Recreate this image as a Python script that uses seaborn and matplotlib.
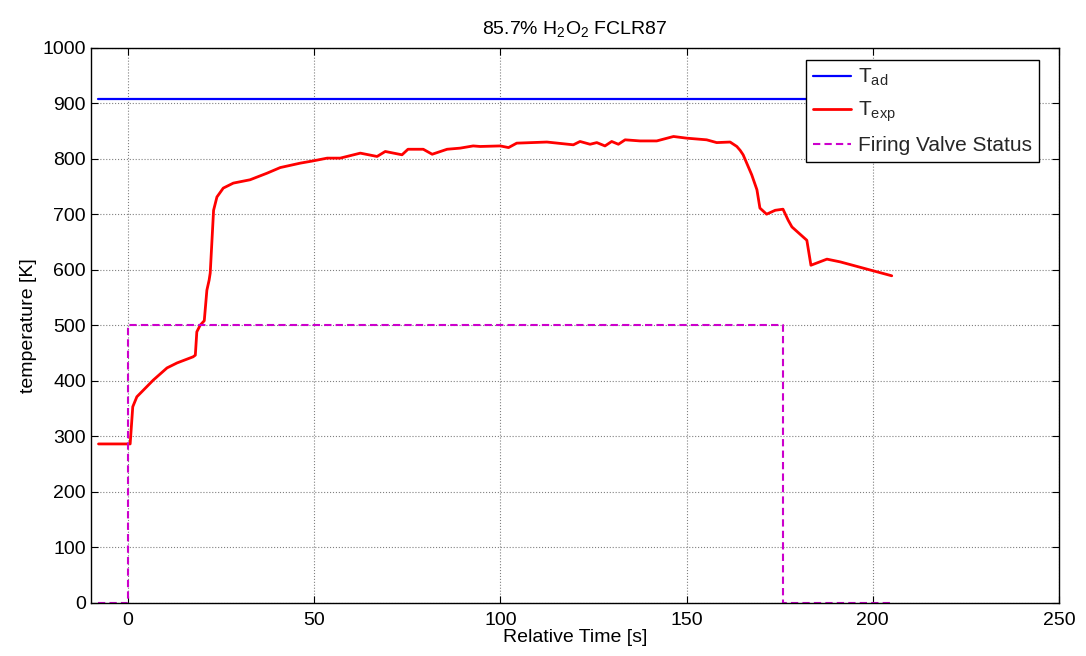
import matplotlib
matplotlib.use("Agg")
import matplotlib.pyplot as plt
import seaborn as sns
import pandas as pd

# ---- data ----
t_ad_time = [-8, 205]
t_ad_vals = [907, 907]

t_exp_time = [-7.9, 0.6, 1.3, 2.4, 6.8, 10.5, 13.2, 17.5, 18.1, 18.5, 19.4, 20.5, 21.2, 21.8,
              22.1, 23.0, 23.9, 25.6, 28.3, 32.8, 37.4, 40.9, 46.3, 49.7, 53.5, 57.0, 62.4,
              66.9, 69.1, 73.6, 75.2, 79.3, 81.7, 85.7, 89.2, 92.7, 94.6, 100.0, 102.2, 104.4,
              112.5, 119.6, 121.4, 124.1, 125.9, 128.1, 129.9, 131.7, 133.5, 137.5, 142.0,
              146.5, 150.0, 155.4, 158.1, 161.7, 163.5, 164.4, 165.2, 167.5, 168.9, 169.7,
              171.5, 173.8, 175.9, 177.3, 178.3, 182.3, 183.4, 187.7, 191.3, 200.1, 205.1]
t_exp_vals = [286, 286, 353, 371, 401, 423, 432, 443, 446, 488, 500, 508, 563, 581,
              594, 707, 731, 747, 756, 762, 774, 784, 792, 796, 801, 801, 810,
              804, 813, 807, 817, 817, 808, 817, 819, 823, 822, 823, 820, 828,
              830, 825, 831, 826, 829, 823, 831, 826, 834, 832, 832,
              840, 837, 834, 829, 830, 822, 815, 807, 771, 744, 711,
              700, 707, 709, 689, 677, 653, 608, 619, 614, 598, 589]

valve_time = [-8, 0, 0, 176, 176, 205]
valve_vals = [0, 0, 500, 500, 0, 0]

x_ticks = [0, 50, 100, 150, 200, 250]
y_ticks = [0, 100, 200, 300, 400, 500, 600, 700, 800, 900, 1000]

df_ad = pd.DataFrame({"time": t_ad_time, "temp": t_ad_vals})
df_exp = pd.DataFrame({"time": t_exp_time, "temp": t_exp_vals})
df_valve = pd.DataFrame({"time": valve_time, "temp": valve_vals})

# ---- style ----
sns.set_theme(style="white")
plt.rcParams["font.family"] = ["Liberation Sans", "DejaVu Sans"]
plt.rcParams["mathtext.fontset"] = "custom"
plt.rcParams["mathtext.rm"] = "Liberation Sans"
plt.rcParams["mathtext.it"] = "Liberation Sans"
plt.rcParams["mathtext.default"] = "regular"

fig = plt.figure(figsize=(10.86, 6.56), dpi=100)
ax = fig.add_axes([0.0835, 0.0813, 0.8916, 0.846])

sns.lineplot(data=df_ad, x="time", y="temp", ax=ax, color="#0000ff", lw=1.6,
             label=r"$T_{ad}$", sort=False, estimator=None)
sns.lineplot(data=df_exp, x="time", y="temp", ax=ax, color="#ff0000", lw=2.0,
             label=r"$T_{exp}$", sort=False, estimator=None)
sns.lineplot(data=df_valve, x="time", y="temp", ax=ax, color="#cc00cc", lw=1.5,
             linestyle=(0, (3.5, 2.0)), label="Firing Valve Status", sort=False, estimator=None)

ax.set_xlim(-10, 250)
ax.set_ylim(0, 1000)
ax.set_xticks(x_ticks)
ax.set_yticks(y_ticks)
ax.tick_params(direction="in", length=5, width=0.8, labelsize=14, colors="black",
               top=True, right=True, bottom=True, left=True)
ax.tick_params(axis="x", pad=7)
ax.grid(True, linestyle=":", color="#808080", linewidth=0.8)
for s in ax.spines.values():
    s.set_visible(True)
    s.set_color("black")
    s.set_linewidth(1.0)

ax.set_xlabel("Relative Time [s]", fontsize=14, color="black", labelpad=0)
ax.set_ylabel("temperature [K]", fontsize=14, color="black", labelpad=4)
ax.set_title(r"85.7% H$_2$O$_2$ FCLR87", fontsize=14, color="black", pad=10)

leg = ax.legend(loc="upper right", bbox_to_anchor=(0.9794, 0.978), borderaxespad=0,
                fontsize=15, frameon=True, fancybox=False, framealpha=1,
                edgecolor="black", handlelength=1.85, handletextpad=0.3,
                labelspacing=0.55, borderpad=0.35)
leg.get_frame().set_linewidth(1.0)

fig.savefig("out.png", dpi=100)
